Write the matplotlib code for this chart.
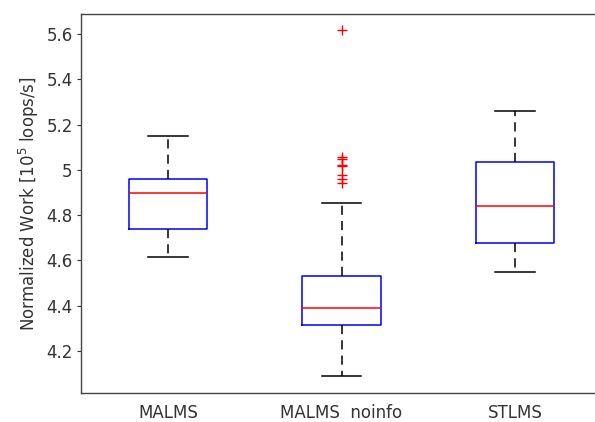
import matplotlib
matplotlib.use('Agg')
import matplotlib.pyplot as plt

plt.rcParams['font.family'] = ['DejaVu Sans']
plt.rcParams['mathtext.fontset'] = 'dejavusans'

# values
labels = ['MALMS', 'MALMS  noinfo', 'STLMS']
whislo = [4.616, 4.089, 4.548]
q1 = [4.740, 4.315, 4.676]
med = [4.898, 4.390, 4.840]
q3 = [4.958, 4.531, 5.036]
whishi = [5.149, 4.854, 5.258]
fliers = [[], [5.618, 5.055, 5.047, 5.023, 5.015, 4.977, 4.960, 4.942], []]

stats = []
for i in range(3):
    stats.append(dict(label=labels[i], whislo=whislo[i], q1=q1[i], med=med[i],
                      q3=q3[i], whishi=whishi[i], fliers=fliers[i]))

fig = plt.figure(figsize=(5.95, 4.22), dpi=100)
# right edge of the axes falls just outside the picture, as in the reference
ax = fig.add_axes([81 / 595, 1 - 393 / 422, (602 - 81) / 595, (393 - 14) / 422])

ax.bxp(stats, positions=[1, 2, 3], widths=0.45,
       boxprops=dict(color='blue', linewidth=1.1),
       medianprops=dict(color='red', linewidth=1.1),
       whiskerprops=dict(color='black', linestyle=(0, (6, 4)), linewidth=1.1),
       capprops=dict(color='black', linewidth=1.1),
       capwidths=0.23,
       flierprops=dict(marker='+', markeredgecolor='red', markersize=7,
                       markeredgewidth=1.0, linestyle='none'))

ax.set_xlim(0.5, 3.5)
ax.set_ylim(4.015, 5.688)
ax.set_yticks([4.2, 4.4, 4.6, 4.8, 5.0, 5.2, 5.4, 5.6])
ax.set_yticklabels(['4.2', '4.4', '4.6', '4.8', '5', '5.2', '5.4', '5.6'])
ax.tick_params(axis='y', direction='out', length=3, labelsize=12, colors='#333333',
               labelcolor='#333333', pad=3)
ax.tick_params(axis='x', length=0, labelsize=12, labelcolor='#333333', pad=8)
for s in ax.spines.values():
    s.set_color('#444444')
    s.set_linewidth(1.0)
ax.set_ylabel(r'Normalized Work [10$^5$ loops/s]', fontsize=12, color='#333333',
              labelpad=4)

fig.savefig('out.png', dpi=100)
